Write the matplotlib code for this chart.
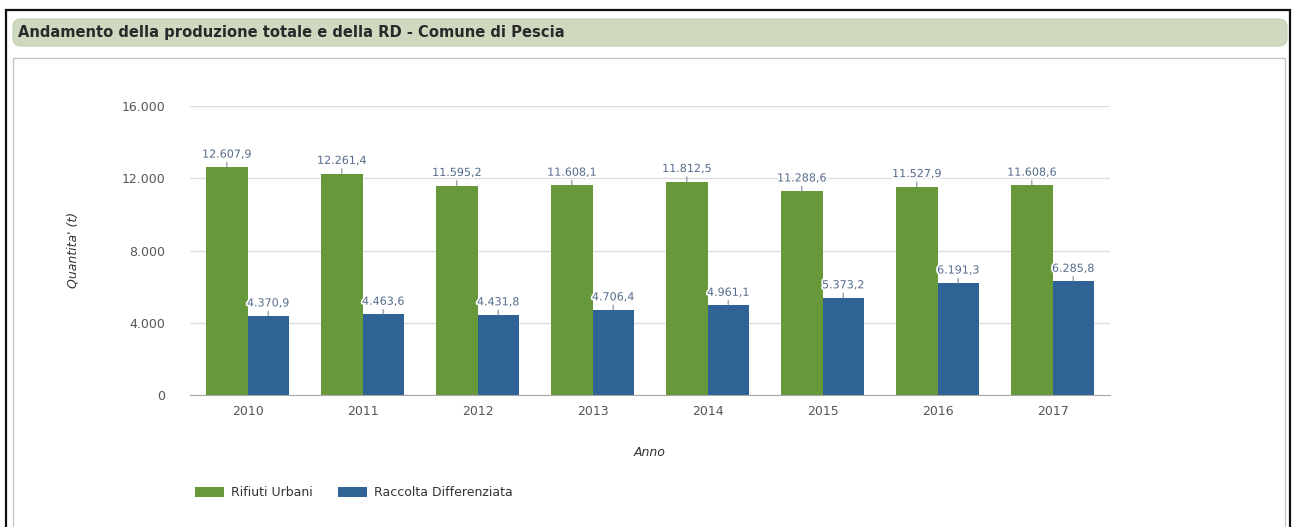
import numpy as np
import matplotlib.pyplot as plt
from matplotlib.patches import FancyBboxPatch, Rectangle
from matplotlib.transforms import IdentityTransform
import matplotlib.patheffects as pe

# Produzione rifiuti - Comune di Pescia (tonnellate)
anni = ['2010', '2011', '2012', '2013', '2014', '2015', '2016', '2017']
rifiuti_urbani = [12607.9, 12261.4, 11595.2, 11608.1, 11812.5, 11288.6, 11527.9, 11608.6]
raccolta_diff = [4370.9, 4463.6, 4431.8, 4706.4, 4961.1, 5373.2, 6191.3, 6285.8]
y_ticks = [0, 4000, 8000, 12000, 16000]

verde = '#67983a'
blu = '#2f6396'
col_label = '#566d8c'
col_tick = '#555555'


def fmt_it(v, dec=1):
    # formato italiano: punto per le migliaia, virgola per i decimali
    s = f'{v:,.{dec}f}'
    return s.replace(',', 'X').replace('.', ',').replace('X', '.')


fig = plt.figure(figsize=(12.95, 5.27), dpi=100)
W, H = 1295, 527

def fx(px):
    return px / W

def fy(py):
    return 1 - py / H

# cornice esterna e pannello
fig.patches.append(Rectangle((fx(6), fy(540)), fx(1284), fy(10) - fy(540),
                             transform=fig.transFigure, fill=False,
                             edgecolor='#111111', linewidth=1.6))
fig.patches.append(Rectangle((fx(13), fy(540)), fx(1272), fy(58) - fy(540),
                             transform=fig.transFigure, fill=False,
                             edgecolor='#c8c8c8', linewidth=1.0))
# barra del titolo (coordinate in pixel)
fig.patches.append(FancyBboxPatch((13, H - 46), 1274, 27,
                                  boxstyle='round,pad=0,rounding_size=8',
                                  transform=IdentityTransform(),
                                  facecolor='#cfd9bf', edgecolor='#c4cfb3', linewidth=0.8))
fig.text(fx(18), fy(33), 'Andamento della produzione totale e della RD - Comune di Pescia',
         fontsize=10.6, fontweight='bold', color='#2a2a2a', va='center', ha='left')

ax = fig.add_axes([fx(190), fy(395), fx(920), fy(106) - fy(395)])

x = np.arange(len(anni))
w = 0.36
b1 = ax.bar(x - w / 2, rifiuti_urbani, w, color=verde, label='Rifiuti Urbani', zorder=3)
b2 = ax.bar(x + w / 2, raccolta_diff, w, color=blu, label='Raccolta Differenziata', zorder=3)

halo = [pe.withStroke(linewidth=2.5, foreground='white')]
for bars, vals in ((b1, rifiuti_urbani), (b2, raccolta_diff)):
    for rect, v in zip(bars, vals):
        cx = rect.get_x() + rect.get_width() / 2
        ax.annotate(fmt_it(v), xy=(cx, v), xytext=(0, 5.5), textcoords='offset points',
                    ha='center', va='bottom', fontsize=8, color=col_label,
                    path_effects=halo, zorder=5,
                    arrowprops=dict(arrowstyle='-', color='#7a8a9a', lw=0.8,
                                    shrinkA=0, shrinkB=0))

ax.set_xlim(-0.5, len(anni) - 0.5)
ax.set_ylim(0, 16000)
ax.set_yticks(y_ticks)
ax.set_yticklabels([fmt_it(t, 0) for t in y_ticks])
ax.set_xticks(x)
ax.set_xticklabels(anni)
ax.tick_params(axis='both', length=0, labelsize=9, colors=col_tick)
ax.tick_params(axis='y', pad=18)
ax.tick_params(axis='x', pad=7)
ax.grid(axis='y', color='#dcdcdc', linewidth=0.9, zorder=0)
for s in ('top', 'right', 'left'):
    ax.spines[s].set_visible(False)
ax.spines['bottom'].set_color('#a8a8a8')
ax.spines['bottom'].set_zorder(4)

fig.text(fx(73), fy(250), "Quantita' (t)", rotation=90, fontsize=9, fontstyle='italic',
         color='#333333', ha='center', va='center')
fig.text(fx(650), fy(453), 'Anno', fontsize=9, fontstyle='italic',
         color='#333333', ha='center', va='center')

fig.legend(handles=[b1, b2], loc='center left', bbox_to_anchor=(fx(184), fy(493)),
           ncol=2, frameon=False, fontsize=9, handlelength=2.3, handleheight=0.85,
           handletextpad=0.6, columnspacing=2.0, labelcolor='#333333')

fig.savefig('out.png', dpi=100, facecolor='white')
